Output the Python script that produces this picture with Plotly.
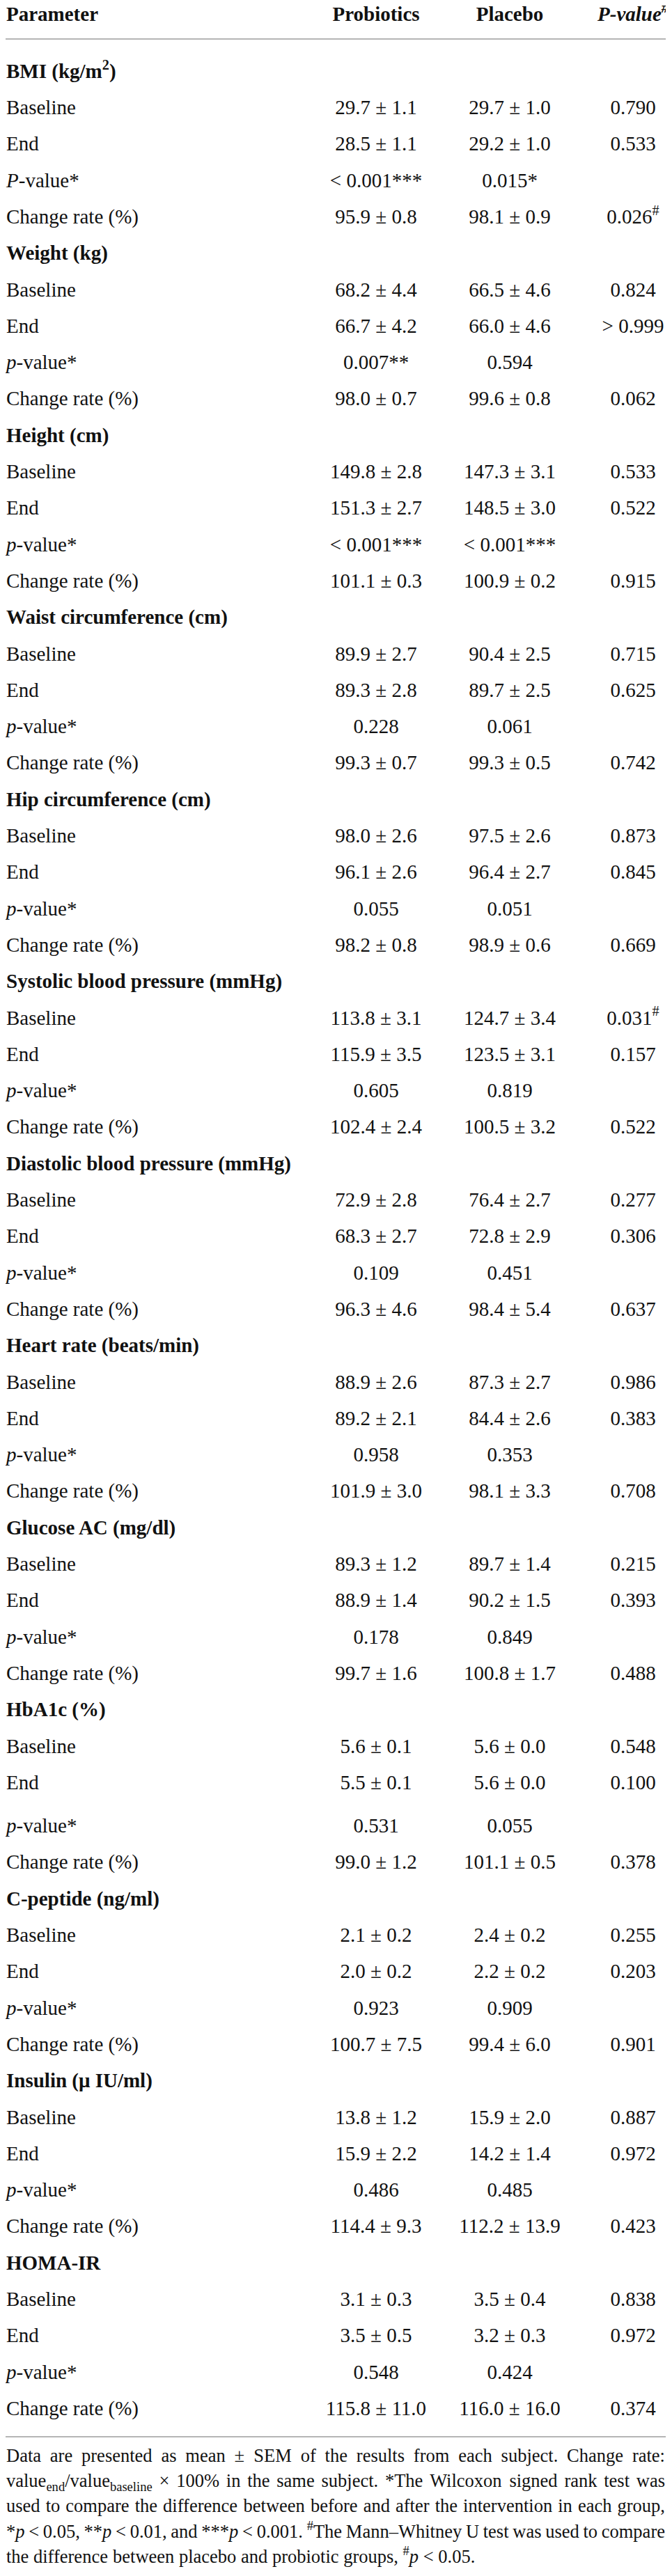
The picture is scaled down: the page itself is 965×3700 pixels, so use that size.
import re
import plotly.graph_objects as go

# ---------------- data ----------------
groups = ["BMI (kg/m<sup>2</sup>)", "Weight (kg)", "Height (cm)", "Waist circumference (cm)",
          "Hip circumference (cm)", "Systolic blood pressure (mmHg)", "Diastolic blood pressure (mmHg)",
          "Heart rate (beats/min)", "Glucose AC (mg/dl)", "HbA1c (%)", "C-peptide (ng/ml)",
          "Insulin (μ IU/ml)", "HOMA-IR"]
row_labels = ["Baseline", "End", "<i>p</i>-value*", "Change rate (%)"]
first_pvalue_label = "<i>P</i>-value*"
columns = ["Parameter", "Probiotics", "Placebo", "P-value"]

pro_base_mean = [29.7, 68.2, 149.8, 89.9, 98.0, 113.8, 72.9, 88.9, 89.3, 5.6, 2.1, 13.8, 3.1]
pro_base_sem = [1.1, 4.4, 2.8, 2.7, 2.6, 3.1, 2.8, 2.6, 1.2, 0.1, 0.2, 1.2, 0.3]
pro_end_mean = [28.5, 66.7, 151.3, 89.3, 96.1, 115.9, 68.3, 89.2, 88.9, 5.5, 2.0, 15.9, 3.5]
pro_end_sem = [1.1, 4.2, 2.7, 2.8, 2.6, 3.5, 2.7, 2.1, 1.4, 0.1, 0.2, 2.2, 0.5]
pro_pvalue = ["&lt; 0.001***", "0.007**", "&lt; 0.001***", "0.228", "0.055", "0.605", "0.109",
              "0.958", "0.178", "0.531", "0.923", "0.486", "0.548"]
pro_change_mean = [95.9, 98.0, 101.1, 99.3, 98.2, 102.4, 96.3, 101.9, 99.7, 99.0, 100.7, 114.4, 115.8]
pro_change_sem = [0.8, 0.7, 0.3, 0.7, 0.8, 2.4, 4.6, 3.0, 1.6, 1.2, 7.5, 9.3, 11.0]

pla_base_mean = [29.7, 66.5, 147.3, 90.4, 97.5, 124.7, 76.4, 87.3, 89.7, 5.6, 2.4, 15.9, 3.5]
pla_base_sem = [1.0, 4.6, 3.1, 2.5, 2.6, 3.4, 2.7, 2.7, 1.4, 0.0, 0.2, 2.0, 0.4]
pla_end_mean = [29.2, 66.0, 148.5, 89.7, 96.4, 123.5, 72.8, 84.4, 90.2, 5.6, 2.2, 14.2, 3.2]
pla_end_sem = [1.0, 4.6, 3.0, 2.5, 2.7, 3.1, 2.9, 2.6, 1.5, 0.0, 0.2, 1.4, 0.3]
pla_pvalue = ["0.015*", "0.594", "&lt; 0.001***", "0.061", "0.051", "0.819", "0.451",
              "0.353", "0.849", "0.055", "0.909", "0.485", "0.424"]
pla_change_mean = [98.1, 99.6, 100.9, 99.3, 98.9, 100.5, 98.4, 98.1, 100.8, 101.1, 99.4, 112.2, 116.0]
pla_change_sem = [0.9, 0.8, 0.2, 0.5, 0.6, 3.2, 5.4, 3.3, 1.7, 0.5, 6.0, 13.9, 16.0]

between_base_p = ["0.790", "0.824", "0.533", "0.715", "0.873", "0.031<sup>#</sup>", "0.277",
                  "0.986", "0.215", "0.548", "0.255", "0.887", "0.838"]
between_end_p = ["0.533", "&gt; 0.999", "0.522", "0.625", "0.845", "0.157", "0.306",
                 "0.383", "0.393", "0.100", "0.203", "0.972", "0.972"]
between_change_p = ["0.026<sup>#</sup>", "0.062", "0.915", "0.742", "0.669", "0.522", "0.637",
                    "0.708", "0.488", "0.378", "0.901", "0.423", "0.374"]

footnote_lines = [
    "Data are presented as mean ± SEM of the results from each subject. Change rate:",
    "value<sub>end</sub>/value<sub>baseline</sub> × 100% in the same subject. *The Wilcoxon signed rank test was",
    "used to compare the difference between before and after the intervention in each group,",
    "*<i>p</i> &lt; 0.05, **<i>p</i> &lt; 0.01, and ***<i>p</i> &lt; 0.001. <sup>#</sup>The Mann–Whitney U test was used to compare",
    "the difference between placebo and probiotic groups, <sup>#</sup><i>p</i> &lt; 0.05.",
]

# ---------------- layout constants (page pixel coordinates) ----------------
PAGE_W, PAGE_H = 965, 3700
BODY_MARGIN = 8                       # default page margin around the figure
FIG_W, FIG_H = PAGE_W - 2 * BODY_MARGIN - 1, PAGE_H - 2 * BODY_MARGIN - 2
FONT = "Liberation Serif"
BODY = 29
FOOT = 26.5
X_LEFT, X_PRO, X_PLA, X_P = 9, 540, 732, 909
Y_HEAD, Y_RULE1 = 23, 56
Y0, PITCH, EXTRA = 104.5, 52.3, 10
Y_RULE2 = 3500
FOOT_Y0, FOOT_PITCH = 3529, 36.4
FOOT_LEFT, FOOT_RIGHT = 9, 955
RULE_COLOR = "#b5b5b5"
INK = "#111111"


def fmt(m, s):
    return f"{m:.1f} ± {s:.1f}"


# build rows
ys, labels, pro_txt, pla_txt, p_txt = [], [], [], [], []
for g, name in enumerate(groups):
    for r in range(5):
        idx = g * 5 + r
        y = Y0 + idx * PITCH
        if (g == 9 and r >= 3) or g > 9:
            y += EXTRA
        ys.append(y)
        if r == 0:
            labels.append(f"<b>{name}</b>")
            pro_txt.append(""); pla_txt.append(""); p_txt.append("")
        elif r == 1:
            labels.append(row_labels[0])
            pro_txt.append(fmt(pro_base_mean[g], pro_base_sem[g]))
            pla_txt.append(fmt(pla_base_mean[g], pla_base_sem[g]))
            p_txt.append(between_base_p[g])
        elif r == 2:
            labels.append(row_labels[1])
            pro_txt.append(fmt(pro_end_mean[g], pro_end_sem[g]))
            pla_txt.append(fmt(pla_end_mean[g], pla_end_sem[g]))
            p_txt.append(between_end_p[g])
        elif r == 3:
            labels.append(first_pvalue_label if g == 0 else row_labels[2])
            pro_txt.append(pro_pvalue[g])
            pla_txt.append(pla_pvalue[g])
            p_txt.append("")
        else:
            labels.append(row_labels[3])
            pro_txt.append(fmt(pro_change_mean[g], pro_change_sem[g]))
            pla_txt.append(fmt(pla_change_mean[g], pla_change_sem[g]))
            p_txt.append(between_change_p[g])

fig = go.Figure()
font = dict(family=FONT, size=BODY, color=INK)


def add_text(x, yy, txt, pos, f=font):
    keep = [(a, b, c) for a, b, c in zip(x, yy, txt) if c]
    fig.add_trace(go.Scatter(x=[k[0] for k in keep], y=[k[1] for k in keep],
                             text=[k[2] for k in keep], mode="text", textposition=pos,
                             textfont=f, hoverinfo="skip", showlegend=False, cliponaxis=False))


# header
add_text([X_LEFT], [Y_HEAD], ["<b>" + columns[0] + "</b>"], "middle right")
add_text([X_PRO, X_PLA], [Y_HEAD, Y_HEAD], ["<b>" + columns[1] + "</b>", "<b>" + columns[2] + "</b>"], "middle center")
add_text([X_P], [Y_HEAD], ["<b><i>" + columns[3] + "<sup>#</sup></i></b>"], "middle center")

# body
n = len(ys)
add_text([X_LEFT] * n, ys, labels, "middle right")
add_text([X_PRO] * n, ys, pro_txt, "middle center")
add_text([X_PLA] * n, ys, pla_txt, "middle center")
add_text([X_P] * n, ys, p_txt, "middle center")

# ---------------- footnote with justification (Times metrics) ----------------
TW = {' ': 250, '!': 333, '#': 500, '%': 833, '(': 333, ')': 333, '*': 500, ',': 250, '-': 333,
      '.': 250, '/': 278, ':': 278, '<': 564, '>': 564, '±': 564, '×': 564, '–': 500,
      'A': 722, 'B': 667, 'C': 667, 'D': 722, 'E': 611, 'F': 556, 'G': 722, 'H': 722, 'I': 333,
      'J': 389, 'K': 722, 'L': 611, 'M': 889, 'N': 722, 'O': 722, 'P': 556, 'Q': 722, 'R': 667,
      'S': 556, 'T': 611, 'U': 722, 'V': 722, 'W': 944, 'X': 722, 'Y': 722, 'Z': 611,
      'a': 444, 'b': 500, 'c': 444, 'd': 500, 'e': 444, 'f': 333, 'g': 500, 'h': 500, 'i': 278,
      'j': 278, 'k': 500, 'l': 278, 'm': 778, 'n': 500, 'o': 500, 'p': 500, 'q': 500, 'r': 333,
      's': 389, 't': 278, 'u': 500, 'v': 500, 'w': 722, 'x': 500, 'y': 500, 'z': 444}
for d in "0123456789":
    TW[d] = 500


def text_width(s, fs):
    s = s.replace("&lt;", "<").replace("&gt;", ">")
    w, scale = 0.0, 1.0
    for t in re.split(r"(</?(?:sup|sub|i|b)>)", s):
        if t in ("<sup>", "<sub>"):
            scale = 0.7
            continue
        if t in ("</sup>", "</sub>"):
            scale = 1.0
            continue
        if t in ("<i>", "</i>", "<b>", "</b>"):
            continue
        for ch in t:
            w += TW.get(ch, 500) * scale
    return w / 1000.0 * fs


fx, fy, ft = [], [], []
for li, line in enumerate(footnote_lines):
    y = FOOT_Y0 + li * FOOT_PITCH
    words = line.split(" ")
    widths = [text_width(w_, FOOT) for w_ in words]
    if li < len(footnote_lines) - 1 and len(words) > 1:
        gap = (FOOT_RIGHT - FOOT_LEFT - sum(widths)) / (len(words) - 1)
    else:
        gap = text_width(" ", FOOT)
    x = FOOT_LEFT
    for w_, wd in zip(words, widths):
        fx.append(x); fy.append(y); ft.append(w_)
        x += wd + gap

add_text(fx, fy, ft, "middle right", dict(family=FONT, size=FOOT, color=INK))

# rules
for yy in (Y_RULE1, Y_RULE2):
    fig.add_shape(type="line", xref="x", yref="y", x0=BODY_MARGIN, x1=PAGE_W - BODY_MARGIN,
                  y0=yy, y1=yy, line=dict(color=RULE_COLOR, width=2))

fig.update_layout(
    width=FIG_W, height=FIG_H, margin=dict(l=0, r=0, t=0, b=0),
    paper_bgcolor="white", plot_bgcolor="white", showlegend=False,
    xaxis=dict(range=[BODY_MARGIN, BODY_MARGIN + FIG_W], visible=False, fixedrange=True),
    yaxis=dict(range=[BODY_MARGIN + FIG_H, BODY_MARGIN], visible=False, fixedrange=True),
)

fig.write_html("out.html")
